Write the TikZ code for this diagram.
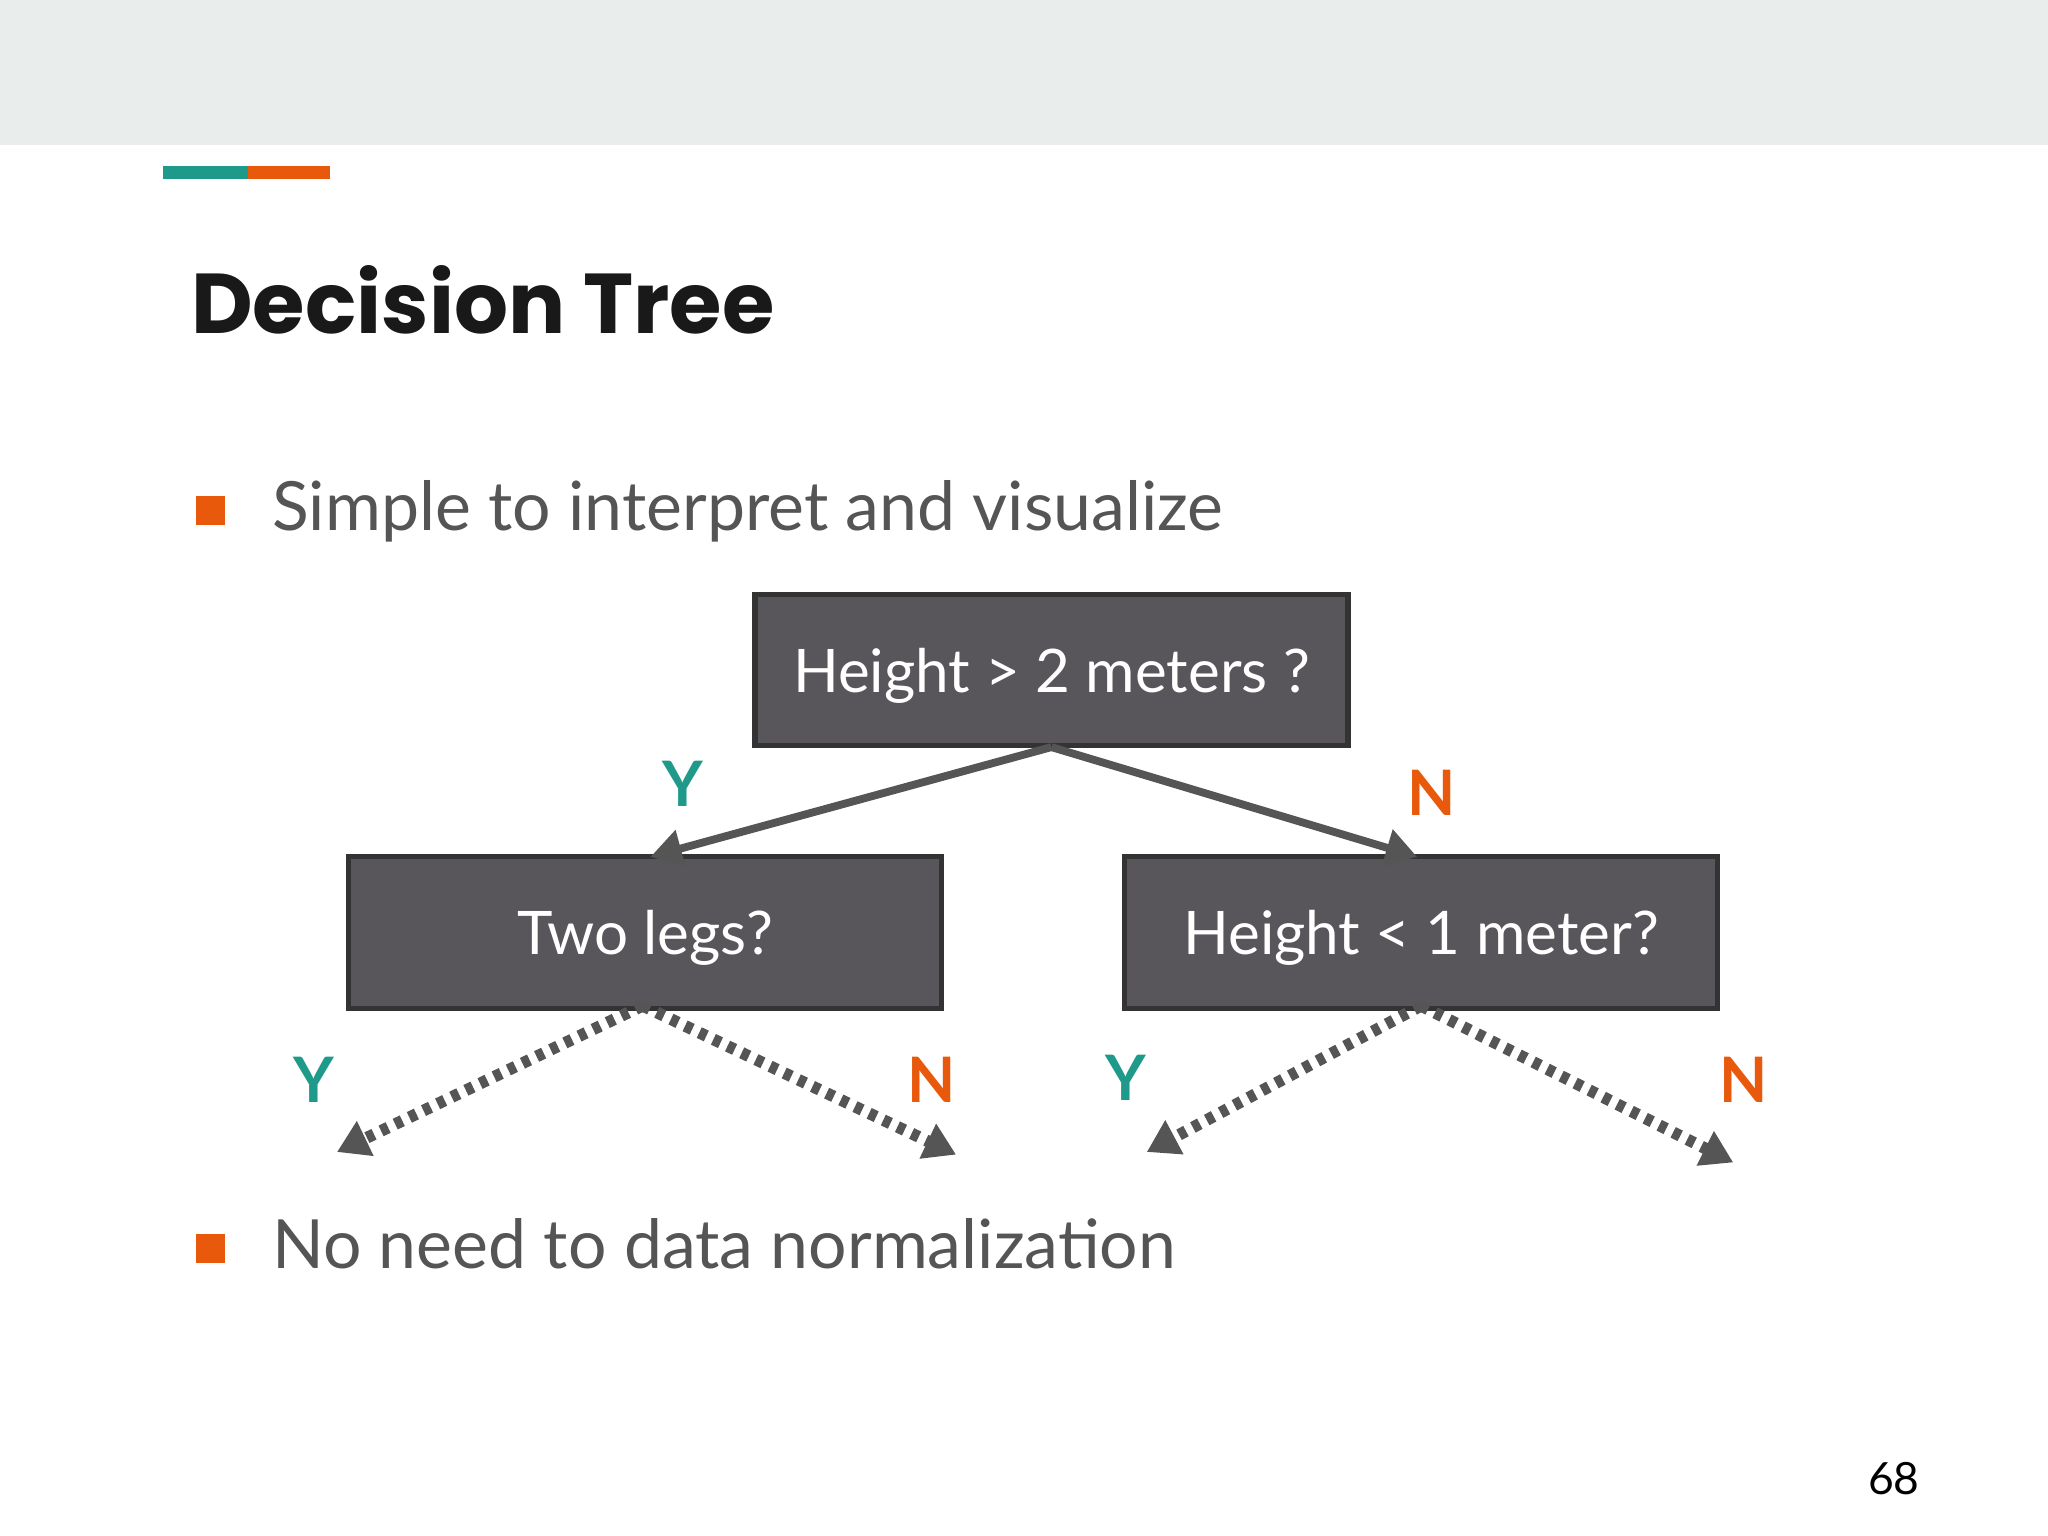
\documentclass[tikz,border=0pt]{standalone}
\usepackage{fontspec}
\setmainfont{Lato}
\newfontfamily\titlefont{Poppins}
\usetikzlibrary{arrows.meta}
\definecolor{teal1}{HTML}{1F9A8A}
\definecolor{orange1}{HTML}{E8590C}
\definecolor{boxfill}{HTML}{58565A}
\definecolor{txtgray}{HTML}{555555}
\definecolor{band}{HTML}{E9EEEC}
\begin{document}
\begin{tikzpicture}[x=0.5pt,y=-0.5pt,
  box/.style={draw=black!80,line width=2pt,fill=boxfill,text=white,minimum width=227pt,minimum height=58pt,text depth=0pt,font=\fontsize{23}{26}\selectfont},
  solidarr/.style={draw=txtgray,line width=3pt,-{Triangle[length=12pt,width=14pt]}},
  dotarr/.style={draw=txtgray,line width=4.5pt,dash pattern=on 3pt off 3pt,-{Triangle[length=12pt,width=14pt]}},
  lab/.style={font=\bfseries\fontsize{24}{26}\selectfont},
  bul/.style={fill=orange1,minimum size=11pt,inner sep=0pt},
  btxt/.style={text=txtgray,font=\fontsize{26}{30}\selectfont,anchor=base west,inner sep=0pt}]
\useasboundingbox (0,0) rectangle (1568,1176);
\fill[white] (0,0) rectangle (1568,1176);
\fill[band] (0,0) rectangle (1568,111);
\fill[teal1] (125,127) rectangle (190,137);
\fill[orange1] (190,127) rectangle (253,137);
\node[anchor=base west,inner sep=0pt,text=black!90,font=\titlefont\bfseries\fontsize{32.5}{38}\selectfont] (title) at (146,255) {Decision Tree};
\node[bul] (b1) at (161,391) {};
\node[btxt] (t1) at (208,406) {Simple to interpret and visualize};
\node[bul] (b2) at (161,956) {};
\node[btxt] (t2) at (208,971) {No need to data normalization};
\node[box] (root) at (805,513) {Height > 2 meters ?};
\node[box] (left) at (494,714) {Two legs?};
\node[box] (right) at (1088,714) {Height < 1 meter?};
\coordinate (rt) at (805,572);
\coordinate (lt) at (498,656);
\coordinate (rrt) at (1085,656);
\draw[solidarr] (rt) -- (lt);
\draw[solidarr] (rt) -- (rrt);
\coordinate (lb) at (492,770);
\coordinate (rb) at (1088,770);
\coordinate (e1) at (258,882);
\coordinate (e2) at (732,884);
\coordinate (e3) at (878,882);
\coordinate (e4) at (1327,890);
\draw[dotarr] (lb) -- (e1);
\draw[dotarr] (lb) -- (e2);
\draw[dotarr] (rb) -- (e3);
\draw[dotarr] (rb) -- (e4);
\node[lab,text=teal1] (y1) at (523,600) {Y};
\node[lab,text=orange1] (n1) at (1096,607) {N};
\node[lab,text=teal1] (y2) at (240,827) {Y};
\node[lab,text=orange1] (n2) at (713,827) {N};
\node[lab,text=teal1] (y3) at (862,825) {Y};
\node[lab,text=orange1] (n3) at (1335,827) {N};
\node[font=\fontsize{17}{20}\selectfont] (pg) at (1450,1132) {68};
\end{tikzpicture}
\end{document}
